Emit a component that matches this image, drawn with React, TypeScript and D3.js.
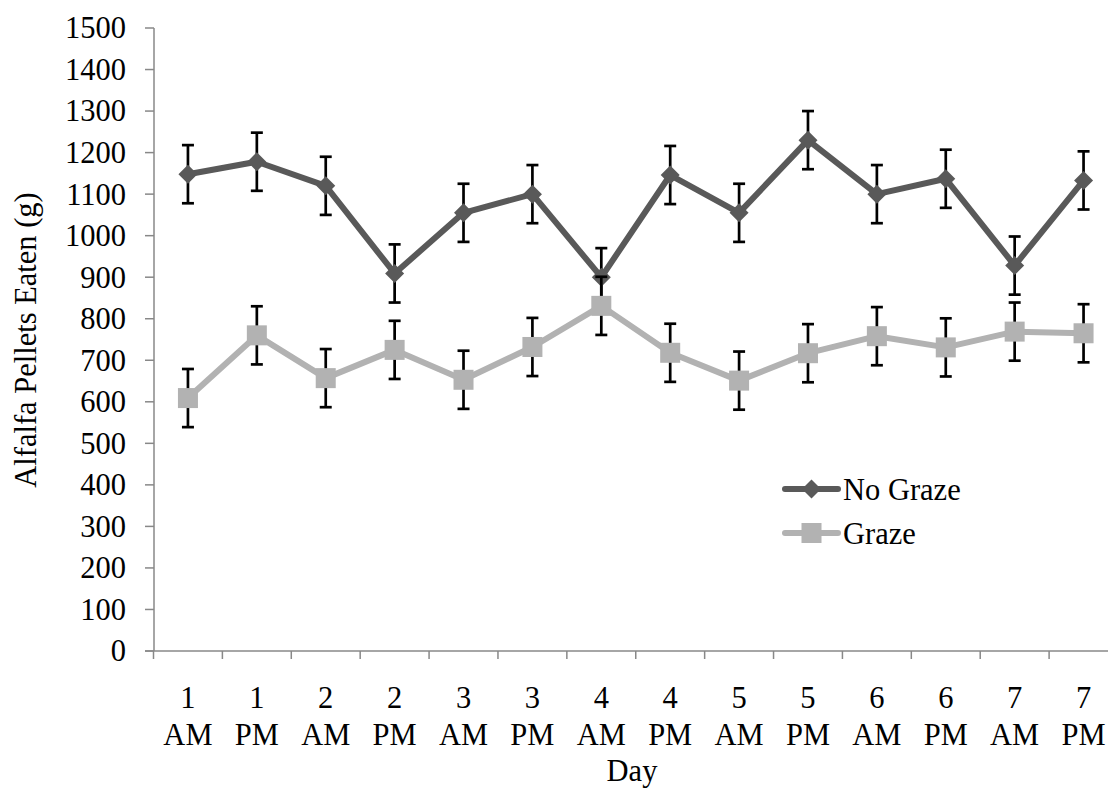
import React from "react";
import * as d3 from "d3";

const categories = ["1|AM", "1|PM", "2|AM", "2|PM", "3|AM", "3|PM", "4|AM", "4|PM", "5|AM", "5|PM", "6|AM", "6|PM", "7|AM", "7|PM"];
const noGraze = [1148, 1178, 1120, 909, 1055, 1100, 900, 1146, 1055, 1230, 1100, 1137, 928, 1133];
const noGrazeErr = [70, 70, 70, 70, 70, 70, 70, 70, 70, 70, 70, 70, 70, 70];
const graze = [609, 760, 657, 725, 653, 732, 831, 718, 651, 717, 758, 731, 769, 765];
const grazeErr = [70, 70, 70, 70, 70, 70, 70, 70, 70, 70, 70, 70, 70, 70];
const yTicks = [0, 100, 200, 300, 400, 500, 600, 700, 800, 900, 1000, 1100, 1200, 1300, 1400, 1500];

const W = 1108;
const H = 788;
const FONT = "'Liberation Serif', 'Times New Roman', serif";
const FS = 30.5;

export default function App() {
  const x = d3.scaleBand<string>().domain(categories).range([153.5, 1118]);
  const y = d3.scaleLinear().domain([0, 1500]).range([651, 28]);
  const cx = (c: string) => (x(c) as number) + x.bandwidth() / 2;
  const line = d3
    .line<number>()
    .x((_, i) => cx(categories[i]))
    .y((d) => y(d));

  const diamond = (px: number, py: number, r: number) =>
    `M${px},${py - r}L${px + r},${py}L${px},${py + r}L${px - r},${py}Z`;

  const errBars = (vals: number[], errs: number[], key: string) =>
    vals.map((v, i) => {
      const px = cx(categories[i]);
      const t = y(v + errs[i]);
      const b = y(v - errs[i]);
      return (
        <g key={key + i} stroke="#000" strokeWidth={2.7}>
          <line x1={px} x2={px} y1={t} y2={b} />
          <line x1={px - 6} x2={px + 6} y1={t} y2={t} />
          <line x1={px - 6} x2={px + 6} y1={b} y2={b} />
        </g>
      );
    });

  const dark = "#595959";
  const light = "#b2b2b2";

  return (
    <svg width={W} height={H} style={{ position: "absolute", left: 0, top: 0, background: "#fff" }} fontFamily={FONT}>
      {/* y axis */}
      <line x1={154} x2={154} y1={28} y2={651} stroke="#888" strokeWidth={1.5} />
      {yTicks.map((t) => (
        <g key={t}>
          <line x1={145} x2={154} y1={y(t)} y2={y(t)} stroke="#888" strokeWidth={1.5} />
          <text x={126} y={y(t)} dy="0.34em" textAnchor="end" fontSize={FS} fill="#000">
            {t}
          </text>
        </g>
      ))}
      {/* x axis */}
      <line x1={145} x2={1118} y1={651} y2={651} stroke="#888" strokeWidth={1.5} />
      {categories.map((c) => (
        <line key={"t" + c} x1={x(c) as number} x2={x(c) as number} y1={651} y2={659} stroke="#888" strokeWidth={1.5} />
      ))}
      {categories.map((c) => {
        const [d, p] = c.split("|");
        return (
          <text key={"l" + c} x={cx(c)} textAnchor="middle" fontSize={FS} fill="#000">
            <tspan x={cx(c)} y={708}>{d}</tspan>
            <tspan x={cx(c)} y={745}>{p}</tspan>
          </text>
        );
      })}
      <text x={632} y={781} textAnchor="middle" fontSize={FS} fill="#000">Day</text>
      <text transform={`translate(36,340) rotate(-90)`} textAnchor="middle" fontSize={FS} fill="#000">
        Alfalfa Pellets Eaten (g)
      </text>

      {/* No Graze */}
      {errBars(noGraze, noGrazeErr, "ne")}
      <path d={line(noGraze) || ""} fill="none" stroke={dark} strokeWidth={6} strokeLinejoin="round" />
      {noGraze.map((v, i) => (
        <path key={"nm" + i} d={diamond(cx(categories[i]), y(v), 9.5)} fill={dark} />
      ))}

      {/* Graze */}
      {errBars(graze, grazeErr, "ge")}
      <path d={line(graze) || ""} fill="none" stroke={light} strokeWidth={6} strokeLinejoin="round" />
      {graze.map((v, i) => (
        <rect key={"gm" + i} x={cx(categories[i]) - 10} y={y(v) - 10} width={20} height={20} fill={light} />
      ))}

      {/* legend */}
      <line x1={785} x2={838} y1={489} y2={489} stroke={dark} strokeWidth={6} strokeLinecap="round" />
      <path d={diamond(811.5, 489, 9.5)} fill={dark} />
      <text x={843} y={500} fontSize={FS} fill="#000">No Graze</text>
      <line x1={785} x2={838} y1={533} y2={533} stroke={light} strokeWidth={6} strokeLinecap="round" />
      <rect x={801.5} y={523} width={20} height={20} fill={light} />
      <text x={843} y={544} fontSize={FS} fill="#000">Graze</text>
    </svg>
  );
}
